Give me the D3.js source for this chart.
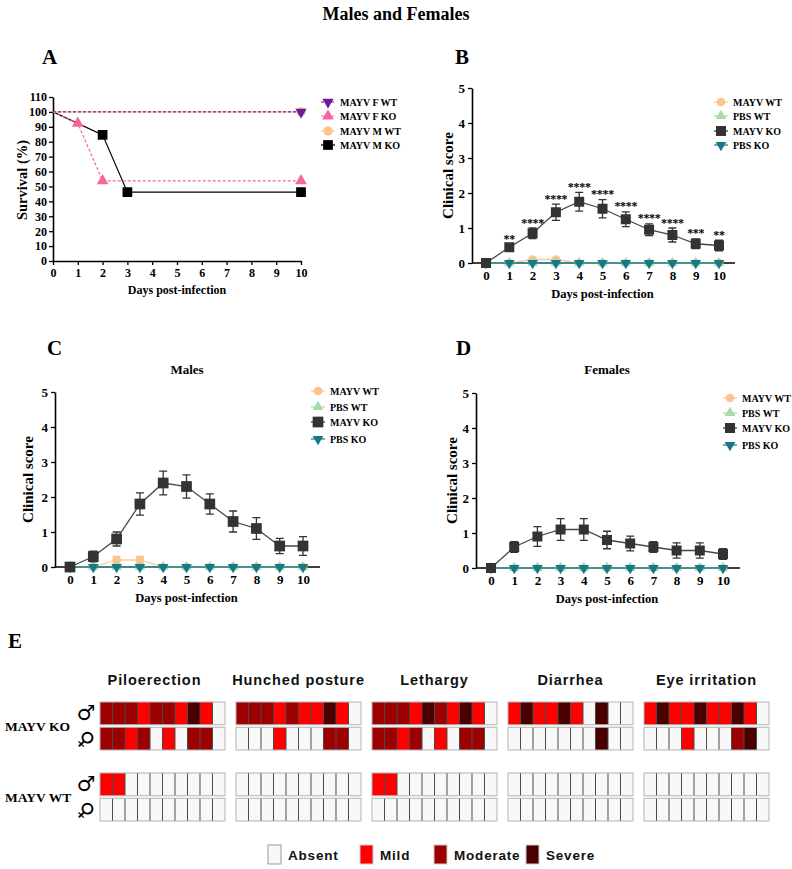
<!DOCTYPE html>
<html>
<head>
<meta charset="utf-8">
<script src="https://cdn.jsdelivr.net/npm/d3@7"></script>
<style>
  body { margin: 0; background: #fff; }
  svg text { font-family: "Liberation Serif", "Times New Roman", serif; font-weight: bold; fill: #000; }
  .hm text { font-family: "Liberation Sans", Arial, sans-serif; }
</style>
</head>
<body>
<svg width="792" height="869"></svg>
<script>
// ---- data ----
const dayTicks = [0, 1, 2, 3, 4, 5, 6, 7, 8, 9, 10];
const survivalTicks = [0, 10, 20, 30, 40, 50, 60, 70, 80, 90, 100, 110];
const scoreTicks = [0, 1, 2, 3, 4, 5];

// panel A: survival (%)
const fWtDays = [0, 10], fWtSurv = [100, 100];
const fKoDays = [0, 1, 2, 10], fKoSurv = [100, 92.3, 53.8, 53.8];
const mWtDays = [0, 10], mWtSurv = [100, 100];
const mKoDays = [0, 2, 3, 10], mKoSurv = [100, 84.6, 46.2, 46.2];

// panel B: males and females
const allKoMean = [0, 0.45, 0.85, 1.45, 1.75, 1.55, 1.25, 0.95, 0.8, 0.55, 0.5];
const allKoErr = [0, 0.07, 0.15, 0.23, 0.27, 0.26, 0.21, 0.17, 0.2, 0.14, 0.15];
const allWtMean = [0, 0, 0.1, 0.1, 0, 0, 0, 0, 0, 0, 0];
const allWtErr = [0, 0, 0.04, 0.04, 0, 0, 0, 0, 0, 0, 0];
const allStars = ["", "**", "****", "****", "****", "****", "****", "****", "****", "***", "**"];

// panel C: males
const maleKoMean = [0, 0.3, 0.8, 1.8, 2.4, 2.3, 1.8, 1.3, 1.1, 0.6, 0.6];
const maleKoErr = [0, 0.15, 0.2, 0.32, 0.34, 0.33, 0.29, 0.3, 0.31, 0.22, 0.27];
const maleWtMean = [0, 0, 0.2, 0.2, 0, 0, 0, 0, 0, 0, 0];
const maleWtErr = [0, 0, 0.1, 0.1, 0, 0, 0, 0, 0, 0, 0];

// panel D: females
const femaleKoMean = [0, 0.6, 0.9, 1.1, 1.1, 0.8, 0.7, 0.6, 0.5, 0.5, 0.4];
const femaleKoErr = [0, 0.15, 0.28, 0.31, 0.31, 0.25, 0.21, 0.15, 0.22, 0.22, 0.15];
const femaleWtMean = [0, 0, 0, 0, 0, 0, 0, 0, 0, 0, 0];

const pbsMean = [0, 0, 0, 0, 0, 0, 0, 0, 0, 0, 0];

// panel E: heat map, 0 absent, 1 mild, 2 moderate, 3 severe
const signs = ["Piloerection", "Hunched posture", "Lethargy", "Diarrhea", "Eye irritation"];
const groups = ["MAYV KO", "MAYV WT"];
const sexes = ["male", "female"];
const severityLabels = ["Absent", "Mild", "Moderate", "Severe"];
const koMaleScores = [
  [2, 2, 2, 1, 2, 2, 1, 3, 1, 0],
  [2, 2, 2, 1, 2, 1, 1, 3, 1, 0],
  [2, 2, 2, 1, 3, 2, 1, 3, 1, 0],
  [1, 3, 1, 1, 3, 1, 0, 3, 0, 0],
  [1, 3, 1, 1, 3, 1, 1, 3, 1, 0]
];
const koFemaleScores = [
  [2, 2, 1, 2, 0, 1, 0, 2, 2, 0],
  [0, 0, 0, 1, 0, 0, 0, 2, 2, 0],
  [2, 2, 1, 2, 0, 1, 0, 2, 2, 0],
  [0, 0, 0, 0, 0, 0, 0, 3, 0, 0],
  [0, 0, 0, 1, 0, 0, 0, 2, 3, 0]
];
const wtMaleScores = [
  [1, 1, 0, 0, 0, 0, 0, 0, 0, 0],
  [0, 0, 0, 0, 0, 0, 0, 0, 0, 0],
  [1, 1, 0, 0, 0, 0, 0, 0, 0, 0],
  [0, 0, 0, 0, 0, 0, 0, 0, 0, 0],
  [0, 0, 0, 0, 0, 0, 0, 0, 0, 0]
];
const wtFemaleScores = [
  [0, 0, 0, 0, 0, 0, 0, 0, 0, 0],
  [0, 0, 0, 0, 0, 0, 0, 0, 0, 0],
  [0, 0, 0, 0, 0, 0, 0, 0, 0, 0],
  [0, 0, 0, 0, 0, 0, 0, 0, 0, 0],
  [0, 0, 0, 0, 0, 0, 0, 0, 0, 0]
];

// ---- drawing ----
const svg = d3.select("svg");
const wtColor = "#fdc48c", pbsWtColor = "#a7dca7", koColor = "#333333", pbsKoColor = "#16788a";

svg.append("text").attr("x", 396).attr("y", 20).attr("text-anchor", "middle")
  .style("font-size", "18px").text("Males and Females");

function drawMarker(g, x, y, m) {
  g.append("path")
    .attr("d", d3.symbol().type(m.type).size(m.size)())
    .attr("transform", `translate(${x},${y})` + (m.down ? " rotate(180)" : ""))
    .attr("fill", m.color);
}

function styleAxis(sel, fontSize) {
  sel.selectAll("text").style("font-size", fontSize).style("fill", "#000")
    .style("font-family", "'Liberation Serif', serif").style("font-weight", "bold");
  sel.selectAll("line").attr("stroke", "#000").attr("stroke-width", 1.3);
  sel.select(".domain").attr("stroke", "#000").attr("stroke-width", 1.6);
}

function drawLegend(g, items, x, ys) {
  items.forEach((it, i) => {
    g.append("line").attr("x1", x - 7).attr("x2", x + 7).attr("y1", ys[i]).attr("y2", ys[i])
      .attr("stroke", it.color).attr("stroke-width", 1.2)
      .attr("stroke-dasharray", it.dash || null);
    drawMarker(g, x, ys[i], it);
    g.append("text").attr("x", x + 12).attr("y", ys[i] + 3.5)
      .style("font-size", "10px").text(it.name);
  });
}

// ---- panel A ----
(function () {
  const g = svg.append("g");
  g.append("text").attr("x", 42).attr("y", 64).style("font-size", "21px").text("A");
  const x = d3.scaleLinear().domain([0, 10]).range([53, 301]);
  const y = d3.scaleLinear().domain([0, 110]).range([261, 97]);

  g.append("g").attr("transform", "translate(0,261)")
    .call(d3.axisBottom(x).tickValues(dayTicks).tickFormat(d3.format("d")).tickSize(4).tickSizeOuter(0).tickPadding(3))
    .call(s => styleAxis(s, "12px"));
  g.append("g").attr("transform", "translate(53,0)")
    .call(d3.axisLeft(y).tickValues(survivalTicks).tickFormat(d3.format("d")).tickSize(4).tickSizeOuter(0).tickPadding(2))
    .call(s => styleAxis(s, "12px"));

  g.append("text").attr("x", 177).attr("y", 294).attr("text-anchor", "middle")
    .style("font-size", "12px").text("Days post-infection");
  g.append("text").attr("transform", "translate(27,180) rotate(-90)").attr("text-anchor", "middle")
    .style("font-size", "14.5px").text("Survival (%)");

  const series = [
    {name: "MAYV M WT", days: mWtDays, vals: mWtSurv, color: wtColor, type: d3.symbolCircle, size: 70},
    {name: "MAYV F WT", days: fWtDays, vals: fWtSurv, color: "#6d1a9c", type: d3.symbolTriangle, size: 55, down: true, dash: "3,2"},
    {name: "MAYV M KO", days: mKoDays, vals: mKoSurv, color: "#000", type: d3.symbolSquare, size: 95},
    {name: "MAYV F KO", days: fKoDays, vals: fKoSurv, color: "#f4679d", type: d3.symbolTriangle, size: 60, dash: "3,2"}
  ];
  const line = d3.line().x(d => x(d[0])).y(d => y(d[1]));
  series.forEach(s => {
    g.append("path").attr("d", line(d3.zip(s.days, s.vals))).attr("fill", "none")
      .attr("stroke", s.color).attr("stroke-width", 1.2).attr("stroke-dasharray", s.dash || null);
  });
  [series[2], series[3], series[0], series[1]].forEach(s => {
    d3.zip(s.days, s.vals).slice(1).forEach(p => drawMarker(g, x(p[0]), y(p[1]), s));
  });

  drawLegend(g, [series[1], series[3], series[0], series[2]], 328, [102, 116, 131, 145]);
})();

// ---- panels B, C, D ----
function scorePanel(cfg) {
  const g = svg.append("g");
  g.append("text").attr("x", cfg.letterX).attr("y", cfg.letterY).style("font-size", "21px").text(cfg.letter);
  if (cfg.title) {
    g.append("text").attr("x", cfg.titleX).attr("y", cfg.letterY + 19).attr("text-anchor", "middle")
      .style("font-size", "13px").text(cfg.title);
  }
  const x = d3.scaleLinear().domain([0, 10]).range([cfg.x0, cfg.x10]);
  const y = d3.scaleLinear().domain([0, 5]).range([cfg.y0, cfg.y5]);

  const xa = g.append("g").attr("transform", `translate(0,${cfg.y0})`)
    .call(d3.axisBottom(x).tickValues(dayTicks).tickFormat(d3.format("d")).tickSize(4).tickSizeOuter(0).tickPadding(4))
    .call(s => styleAxis(s, "13px"));
  xa.select(".domain").remove();
  g.append("line").attr("x1", cfg.yAxisX).attr("x2", cfg.axisEnd).attr("y1", cfg.y0).attr("y2", cfg.y0)
    .attr("stroke", "#000").attr("stroke-width", 1.6);
  g.append("g").attr("transform", `translate(${cfg.yAxisX},0)`)
    .call(d3.axisLeft(y).tickValues(scoreTicks).tickFormat(d3.format("d")).tickSize(4).tickSizeOuter(0).tickPadding(3))
    .call(s => styleAxis(s, "13px"));

  g.append("text").attr("x", (cfg.x0 + cfg.x10) / 2).attr("y", cfg.y0 + 35).attr("text-anchor", "middle")
    .style("font-size", "12.5px").text("Days post-infection");
  g.append("text").attr("transform", `translate(${cfg.yLabelX},${(cfg.y0 + cfg.y5) / 2}) rotate(-90)`)
    .attr("text-anchor", "middle").style("font-size", "15px").text("Clinical score");

  const line = d3.line().x((d, i) => x(dayTicks[i])).y(d => y(d));
  const series = [
    {name: "MAYV WT", mean: cfg.wtMean, err: cfg.wtErr, color: wtColor, type: d3.symbolCircle, size: 60},
    {name: "PBS WT", mean: pbsMean, color: pbsWtColor, type: d3.symbolTriangle, size: 50},
    {name: "PBS KO", mean: pbsMean, color: pbsKoColor, type: d3.symbolTriangle, size: 50, down: true},
    {name: "MAYV KO", mean: cfg.koMean, err: cfg.koErr, color: koColor, type: d3.symbolSquare, size: cfg.sq}
  ];
  series.forEach(s => {
    g.append("path").attr("d", line(s.mean)).attr("fill", "none")
      .attr("stroke", s.color).attr("stroke-width", 1.3).attr("opacity", 0.9);
    if (s.err) {
      s.mean.forEach((m, i) => {
        const e = s.err[i];
        if (!e) return;
        const cx = x(dayTicks[i]);
        g.append("path")
          .attr("d", `M${cx - 4},${y(m + e)}H${cx + 4}M${cx},${y(m + e)}V${y(m - e)}M${cx - 4},${y(m - e)}H${cx + 4}`)
          .attr("stroke", s.color).attr("stroke-width", 1.3).attr("fill", "none");
      });
    }
    s.mean.forEach((m, i) => drawMarker(g, x(dayTicks[i]), y(m), s));
  });

  if (cfg.stars) {
    cfg.stars.forEach((st, i) => {
      if (!st) return;
      g.append("text").attr("x", x(dayTicks[i])).attr("y", y(cfg.koMean[i] + cfg.koErr[i]) - 1.5)
        .attr("text-anchor", "middle").style("font-size", "12px").style("letter-spacing", "-0.3px")
        .style("fill", "#000").text(st);
    });
  }
  drawLegend(g, [series[0], series[1], series[3], series[2]], cfg.legX, cfg.legY);
}

scorePanel({
  letter: "B", letterX: 455, letterY: 64,
  yAxisX: 472, x0: 486, x10: 719, axisEnd: 735, y0: 263, y5: 88, yLabelX: 453,
  koMean: allKoMean, koErr: allKoErr, wtMean: allWtMean, wtErr: allWtErr, stars: allStars, sq: 100,
  legX: 721, legY: [102, 116, 131, 145]
});
scorePanel({
  letter: "C", letterX: 47, letterY: 355, title: "Males", titleX: 187,
  yAxisX: 55, x0: 70, x10: 303, axisEnd: 320, y0: 567, y5: 392, yLabelX: 33,
  koMean: maleKoMean, koErr: maleKoErr, wtMean: maleWtMean, wtErr: maleWtErr, sq: 115,
  legX: 318, legY: [391, 407, 422, 439]
});
scorePanel({
  letter: "D", letterX: 456, letterY: 355, title: "Females", titleX: 607,
  yAxisX: 476, x0: 491, x10: 723, axisEnd: 740, y0: 568, y5: 393, yLabelX: 457,
  koMean: femaleKoMean, koErr: femaleKoErr, wtMean: femaleWtMean, wtErr: null, sq: 100,
  legX: 730, legY: [398, 413, 428, 445]
});

// ---- panel E: heat map ----
(function () {
  const g = svg.append("g").attr("class", "hm");
  svg.append("text").attr("x", 8).attr("y", 648).style("font-size", "21px").text("E");

  const severityColor = d3.scaleOrdinal().domain([0, 1, 2, 3])
    .range(["#f8f8f8", "#ff0000", "#9c0000", "#4b0000"]);
  const block = d3.scaleBand().domain(signs).range([100, 769]).paddingInner(0.081);
  const cell = d3.scaleBand().domain(d3.range(10)).range([0, block.bandwidth()]);
  const groupY = d3.scalePoint().domain(groups).range([702, 773]);
  const sexY = d3.scaleBand().domain(sexes).range([0, 48]).paddingInner(0.1);

  const rows = [
    {group: "MAYV KO", sex: "male", scores: koMaleScores},
    {group: "MAYV KO", sex: "female", scores: koFemaleScores},
    {group: "MAYV WT", sex: "male", scores: wtMaleScores},
    {group: "MAYV WT", sex: "female", scores: wtFemaleScores}
  ];

  signs.forEach((sign, si) => {
    const bx = block(sign);
    g.append("text").attr("x", bx + block.bandwidth() / 2 - (si === 0 ? 8 : 0)).attr("y", 685)
      .attr("text-anchor", "middle").style("font-size", "14.5px").style("font-weight", "bold")
      .style("letter-spacing", "0.9px").style("fill", "#111").text(sign);
    rows.forEach(r => {
      const ry = groupY(r.group) + sexY(r.sex);
      const h = sexY.bandwidth();
      g.selectAll(null).data(r.scores[si]).enter().append("rect")
        .attr("x", (d, i) => bx + cell(i)).attr("y", ry)
        .attr("width", cell.bandwidth()).attr("height", h)
        .attr("fill", d => severityColor(d));
      g.selectAll(null).data(d3.range(1, 10)).enter().append("line")
        .attr("x1", i => bx + cell(i)).attr("x2", i => bx + cell(i))
        .attr("y1", ry).attr("y2", ry + h)
        .attr("stroke", "#4a4a4a").attr("stroke-width", 1);
      g.append("rect").attr("x", bx).attr("y", ry).attr("width", block.bandwidth()).attr("height", h)
        .attr("fill", "none").attr("stroke", "#b4b4b4").attr("stroke-width", 1);
    });
  });

  groups.forEach(gr => {
    const gy = groupY(gr);
    svg.append("text").attr("x", 5).attr("y", gy + 29).style("font-size", "13.5px").text(gr);
    svg.append("text").attr("x", 86).attr("y", gy + sexY("male") + 18).attr("text-anchor", "middle")
      .style("font-family", "'DejaVu Sans', sans-serif").style("font-weight", "bold")
      .style("font-size", "21px").text("\u2642");
    svg.append("text").attr("transform", `translate(86,${gy + sexY("female") + 12}) rotate(45)`)
      .attr("text-anchor", "middle").attr("dy", "0.35em")
      .style("font-family", "'DejaVu Sans', sans-serif").style("font-weight", "bold")
      .style("font-size", "21px").text("\u2640");
  });

  // legend
  const legX = [268, 360, 434, 526];
  severityLabels.forEach((lab, i) => {
    g.append("rect").attr("x", legX[i]).attr("y", 845).attr("width", 13).attr("height", 19)
      .attr("fill", severityColor(i)).attr("stroke", i === 0 ? "#999" : "#ccc").attr("stroke-width", 1);
    g.append("text").attr("x", legX[i] + 20).attr("y", 860)
      .style("font-size", "13.5px").style("font-weight", "bold").style("letter-spacing", "0.8px")
      .style("fill", "#111").text(lab);
  });
})();
</script>
</body>
</html>
